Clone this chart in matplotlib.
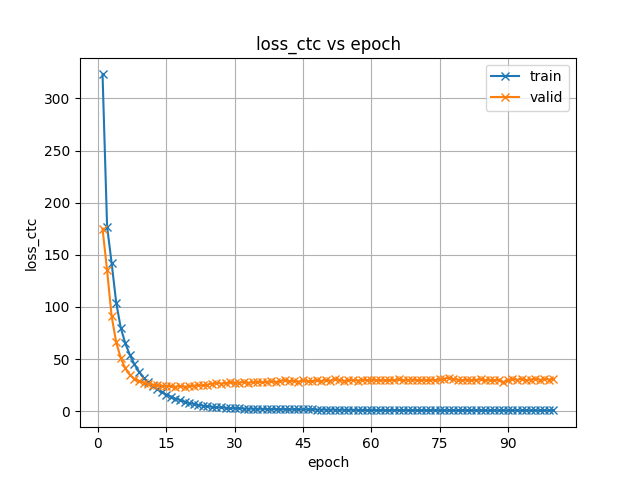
import matplotlib
matplotlib.use("Agg")
import matplotlib.pyplot as plt
from matplotlib.ticker import MultipleLocator

# epochs 1..100
epochs = list(range(1, 101))

train_loss = [
    323.0, 177.0, 142.0, 104.0, 80.0, 65.0, 54.0, 45.0, 38.0, 32.0,
    28.0, 24.5, 21.5, 18.5, 16.0, 14.0, 12.2, 10.6, 9.2, 8.0,
    7.0, 6.1, 5.4, 4.8, 4.3, 3.9, 3.6, 3.3, 3.1, 2.9,
    2.8, 2.6, 2.5, 2.4, 2.4, 2.3, 2.2, 2.2, 2.1, 2.0,
    2.0, 1.9, 1.9, 1.8, 1.8, 1.7, 1.7, 1.6, 1.6, 1.5,
    1.5, 1.5, 1.4, 1.4, 1.4, 1.3, 1.3, 1.3, 1.2, 1.2,
    1.2, 1.2, 1.1, 1.1, 1.1, 1.1, 1.1, 1.0, 1.0, 1.0,
    1.0, 1.0, 1.0, 1.0, 0.9, 0.9, 0.9, 0.9, 0.9, 0.9,
    0.9, 0.9, 0.9, 0.9, 0.8, 0.8, 0.8, 0.8, 0.8, 0.8,
    0.8, 0.8, 0.8, 0.8, 0.8, 0.8, 0.8, 0.8, 0.8, 0.8,
]

valid_loss = [
    175.0, 135.0, 91.0, 66.0, 51.0, 41.0, 35.0, 31.0, 29.0, 27.5,
    26.5, 25.5, 25.0, 24.5, 24.0, 24.2, 23.5, 24.0, 23.4, 24.0,
    24.5, 25.0, 24.8, 25.5, 26.5, 27.2, 26.5, 27.0, 27.6, 27.0,
    27.5, 28.0, 27.3, 27.8, 28.5, 27.6, 28.2, 28.8, 28.0, 28.6,
    30.0, 28.8, 29.2, 28.5, 29.5, 29.0, 28.8, 29.6, 29.0, 29.8,
    29.3, 31.0, 30.2, 29.0, 29.6, 30.0, 29.4, 30.2, 29.8, 30.4,
    29.6, 30.0, 29.5, 30.2, 29.8, 30.5, 29.6, 30.0, 30.4, 29.8,
    30.2, 29.6, 30.4, 29.8, 30.6, 31.2, 32.0, 31.0, 30.2, 29.6,
    30.4, 29.8, 30.0, 30.6, 29.8, 30.2, 29.6, 30.0, 28.0, 29.8,
    30.8, 30.2, 31.0, 29.6, 30.4, 31.2, 30.0, 31.0, 30.4, 31.0,
]

fig, ax = plt.subplots(figsize=(6.4, 4.8), dpi=100)
ax.plot(epochs, train_loss, marker="x", label="train")
ax.plot(epochs, valid_loss, marker="x", label="valid")
ax.xaxis.set_major_locator(MultipleLocator(15))
ax.set_xlabel("epoch")
ax.set_ylabel("loss_ctc")
ax.set_title("loss_ctc vs epoch")
ax.grid(True)
ax.legend(loc="upper right")
fig.savefig("out.png")
